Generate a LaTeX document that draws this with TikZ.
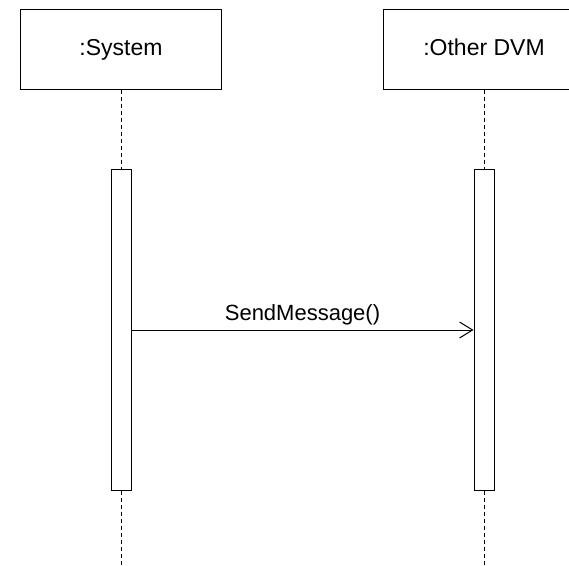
\documentclass[tikz,border=0pt]{standalone}
\usepackage{fontspec}
\setmainfont{Liberation Sans}
\usepackage{tikz}
\usetikzlibrary{arrows.meta,positioning}

\begin{document}
\begin{tikzpicture}[
    x=1pt, y=-1pt,
    obj/.style={rectangle, draw, line width=1pt, minimum width=201pt, minimum height=80pt, text height=16pt, text depth=4pt, align=center, font=\fontsize{23}{27}\selectfont},
    bar/.style={rectangle, draw, line width=1pt, fill=white, minimum width=20pt, minimum height=321pt},
    life/.style={dashed, dash pattern=on 4pt off 3pt, line width=1pt},
    msg/.style={-{Straight Barb[length=13pt,width=16pt,line width=1pt]}, line width=1pt}
]
\useasboundingbox (0,0) rectangle (569,565);
\node[obj] (sys) at (121,49) {:System};
\node[obj] (dvm) at (484,49) {:Other DVM};
\node[bar] (sysbar) at (121,329.5) {};
\node[bar] (dvmbar) at (484,329.5) {};
\coordinate (sysend) at (121,565);
\coordinate (dvmend) at (484,565);
\coordinate (m) at (300,330);

\draw[life] (sys) -- (sysbar);
\draw[life] (sysbar) -- (sysend);
\draw[life] (dvm) -- (dvmbar);
\draw[life] (dvmbar) -- (dvmend);
\draw[msg] (m -| sysbar.east) -- node[above=1pt, font=\fontsize{22}{26}\selectfont] {SendMessage()} (m -| dvmbar.west);
\end{tikzpicture}
\end{document}
